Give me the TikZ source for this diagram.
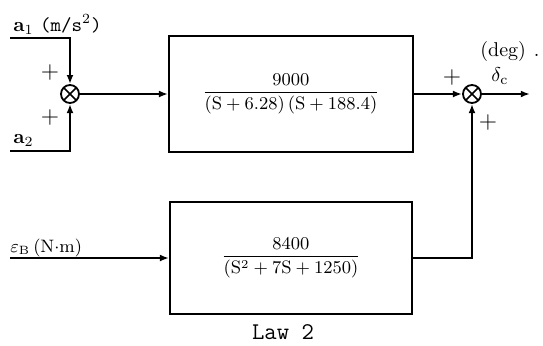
\documentclass[tikz,border=0pt]{standalone}
\usepackage{amsmath}
\usepackage{tikz}
\usetikzlibrary{arrows.meta}
\begin{document}
\begin{tikzpicture}[
  x=0.5pt, y=-0.5pt,
  font=\small,
  sig/.style={black, line width=0.9pt},
  arr/.style={sig, -{Latex[length=1.6mm, width=1.2mm]}},
  blk/.style={draw, line width=0.9pt, inner sep=0pt},
  sumj/.style={draw, circle, line width=0.9pt, minimum size=9pt, inner sep=0pt,
    path picture={\draw[line width=0.8pt]
      (path picture bounding box.north west) -- (path picture bounding box.south east)
      (path picture bounding box.south west) -- (path picture bounding box.north east);}},
  lbl/.style={inner sep=0pt},
  pls/.style={inner sep=0pt, font=\large},
]
\useasboundingbox[fill=white] (0,0) rectangle (543,345);
% the two transfer blocks
\node[blk, minimum width=122pt, minimum height=58pt] (G1) at (291,94)
  {$\dfrac{9000}{(\mathrm{S}+6.28)\,(\mathrm{S}+188.4)}$};
\node[blk, minimum width=121pt, minimum height=56pt] (G2) at (291,258)
  {$\dfrac{8400}{(\mathrm{S}^2+7\mathrm{S}+1250)}$};
% summing junctions
\node[sumj] (s1) at (70,94) {};
\node[sumj] (s2) at (472,94) {};
% free ends and corners
\coordinate (a1in) at (10,38);  \coordinate (a1c) at (70,38);
\coordinate (a2in) at (10,151); \coordinate (a2c) at (70,151);
\coordinate (epsin) at (10,258);
\coordinate (c2) at (472,258);
\coordinate (dout) at (530,94);
% signal lines
\draw[arr] (a1in) -- (a1c) -- (s1);
\draw[arr] (a2in) -- (a2c) -- (s1);
\draw[arr] (s1) -- (G1);
\draw[arr] (G1) -- (s2);
\draw[arr] (s2) -- (dout);
\draw[arr] (epsin) -- (G2);
\draw[arr] (G2) -- (c2) -- (s2);
% labels
\node[lbl, anchor=base west, font=\normalsize] (a1lbl) at (13,31)
  {$\mathbf{a}_1$ \texttt{(m/s}$^{2}$\texttt{)}};
\node[lbl, anchor=base west, font=\normalsize] (a2lbl) at (13,143) {$\mathbf{a}_2$};
\node[pls] (p1) at (50,72) {$+$};
\node[pls] (p2) at (50,117) {$+$};
\node[lbl, anchor=base west] (epslbl) at (10,252) {$\varepsilon_{\mathrm{B}}\,$(N$\cdot$m)};
\node[pls] (p3) at (452,77) {$+$};
\node[pls] (p4) at (488,122) {$+$};
\node[lbl, font=\normalsize] (dlbl) at (500,76) {$\delta_{\mathrm{c}}$};
\node[lbl, anchor=base west, font=\normalsize] (deglbl) at (480,56) {(deg)\hspace{4pt}.};
\node[lbl, font=\large\ttfamily] (law) at (283,332) {Law 2};
\end{tikzpicture}
\end{document}
